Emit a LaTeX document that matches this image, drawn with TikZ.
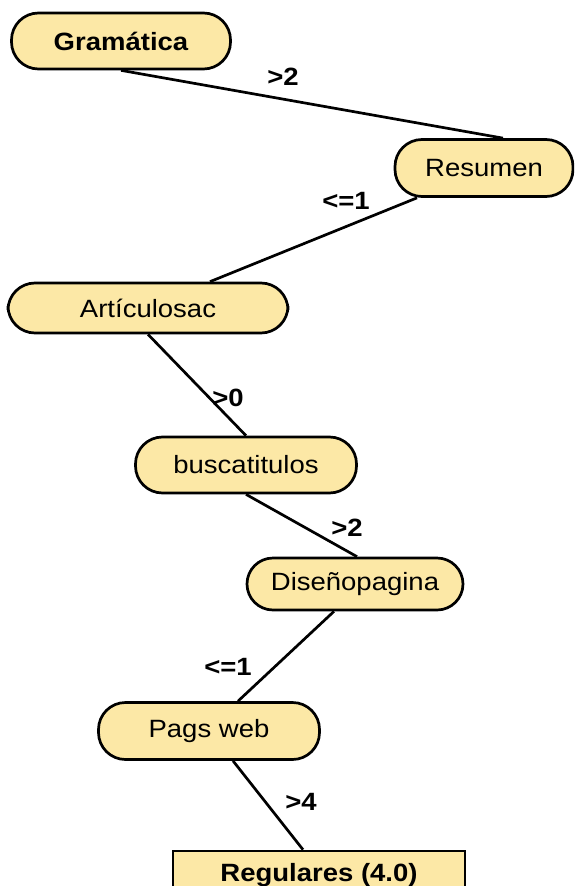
\documentclass[tikz,border=0pt]{standalone}
\usepackage{fontspec}
\setmainfont{Liberation Sans}
\newcommand{\wide}[1]{\scalebox{1.1}[1]{#1}}
\definecolor{leaffill}{RGB}{252,232,166}
\tikzset{
  decision/.style={draw=black, line width=2.7pt, fill=leaffill, rounded corners=#1,
    inner sep=0pt, font=\fontsize{25}{30}\selectfont, text=black},
  decision/.default=27pt,
  leafbox/.style={draw=black, line width=2.7pt, fill=leaffill, inner sep=0pt,
    font=\fontsize{25}{30}\selectfont\bfseries},
  branch/.style={draw=black, line width=2.7pt},
  cond/.style={font=\fontsize{25}{30}\selectfont\bfseries, inner sep=0pt}
}
\begin{document}
\begin{tikzpicture}[x=1pt, y=-1pt]
  \useasboundingbox (0,0) rectangle (574,886);
  \clip (0,0) rectangle (574,886);

  % decision nodes
  \node[decision, minimum width=219pt, minimum height=56pt, font=\fontsize{25}{30}\selectfont\bfseries] (gram) at (121,41) {\wide{Gramática}};
  \node[decision, minimum width=178pt, minimum height=57pt] (resu) at (484,168) {\wide{Resumen}};
  \node[decision, minimum width=280pt, minimum height=50pt] (arti) at (148,308) {\wide{Artículosac}};
  \node[decision, minimum width=221pt, minimum height=56pt] (busc) at (246,465) {\wide{buscatitulos}};
  \node[decision, minimum width=216pt, minimum height=52pt, decision=26pt] (dise) at (355,584) {\wide{Diseñopagina}};
  \node[decision, minimum width=221pt, minimum height=57pt] (pags) at (209,731) {\wide{Pags web}};

  % leaf (runs past the lower edge)
  \node[leafbox, minimum width=292pt, minimum height=58pt] (regu) at (319,880) {};
  \node[leafbox, draw=none, fill=none, anchor=base] (regut) at (319,881) {\wide{Regulares (4.0)}};

  % branches
  \draw[branch] (gram.south) -- ([xshift=19pt]resu.north);
  \draw[branch] ([xshift=-67pt]resu.south) -- ([xshift=62pt]arti.north);
  \draw[branch] (arti.south) -- (busc.north);
  \draw[branch] (busc.south) -- ([xshift=2pt]dise.north);
  \draw[branch] ([xshift=-21pt]dise.south) -- ([xshift=29pt]pags.north);
  \draw[branch] ([xshift=24pt]pags.south) -- ([xshift=-16pt]regu.north);

  % branch conditions
  \node[cond] (c1) at (283,77) {\wide{>2}};
  \node[cond] (c2) at (346,201) {\wide{<=1}};
  \node[cond] (c3) at (228,398) {\wide{>0}};
  \node[cond] (c4) at (347,528) {\wide{>2}};
  \node[cond] (c5) at (228,667) {\wide{<=1}};
  \node[cond] (c6) at (301,802) {\wide{>4}};
\end{tikzpicture}
\end{document}
